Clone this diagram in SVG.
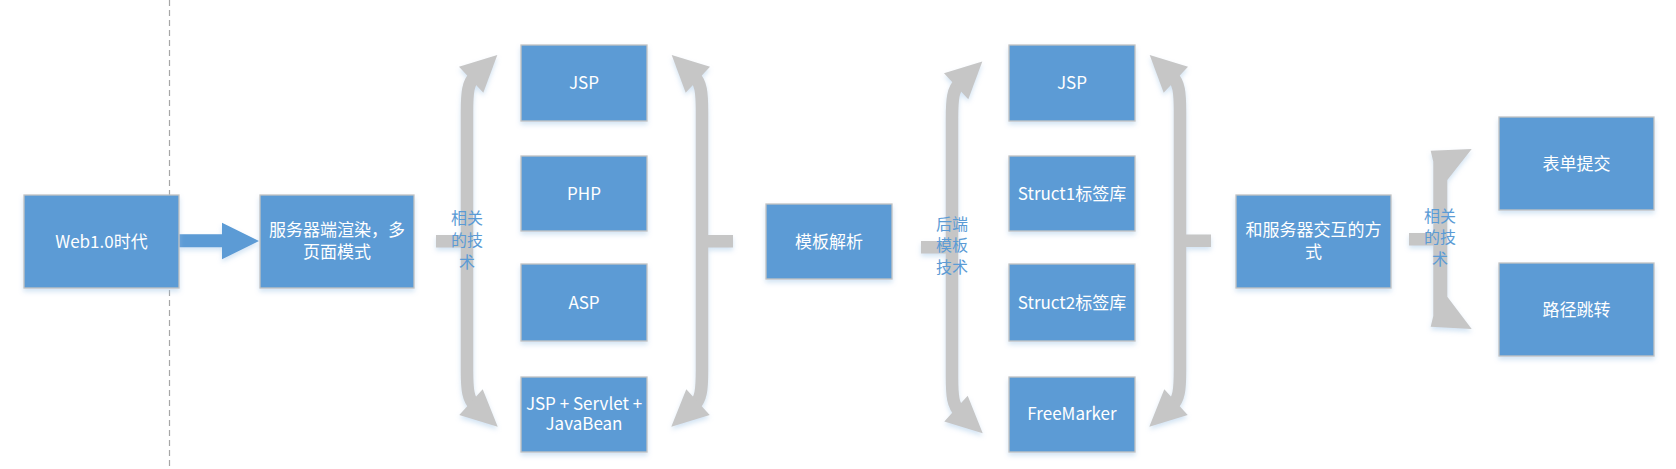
<svg xmlns="http://www.w3.org/2000/svg" xmlns:xlink="http://www.w3.org/1999/xlink" width="1676" height="469" viewBox="0 0 1676 469">
<style>
.box{fill:#5b9bd5;stroke:#c3c3c3;stroke-width:1.3;filter:url(#sh)}
.t{font-family:"Noto Sans CJK SC","Noto Sans",sans-serif;font-size:17px;fill:#ffffff;text-anchor:middle}
.lbl{font-family:"Noto Sans CJK SC","Noto Sans",sans-serif;font-size:16px;fill:#5b9bd5;text-anchor:middle}
.g{fill:#c6c6c6}
.gs{fill:none;stroke:#c6c6c6;stroke-width:12.5}
</style>
<defs>
<filter id="sh" x="-20%" y="-20%" width="140%" height="150%">
<feDropShadow dx="0" dy="3" stdDeviation="2.5" flood-color="#9dc3e6" flood-opacity="0.45"/>
</filter>
<g id="brace">
<path class="gs" d="M475,76 C468,83 467,92 467,112 L467,370 C467,390 468,399 475,406"/>
<polygon class="g" points="497.3,55 459,66.7 483.3,92.7"/>
<polygon class="g" points="497.7,426.7 459.3,415 482.7,389.3"/>
</g>
</defs>
<rect width="1676" height="469" fill="#ffffff"/>
<line x1="169.5" y1="0" x2="169.5" y2="469" stroke="#a6a6a6" stroke-width="1.2" stroke-dasharray="6,4"/>
<g id="connectors" filter="url(#sh)">
<polygon fill="#5b9bd5" points="179,234.3 222,234.3 222,222.7 259,241 222,259.3 222,247.3 179,247.3"/>
<rect class="g" x="436" y="235" width="26" height="12.5"/>
<rect class="g" x="707" y="235" width="26" height="12.5"/>
<rect class="g" x="921" y="241" width="26" height="12.5"/>
<rect class="g" x="1185" y="234.5" width="26" height="12.5"/>
<rect class="g" x="1409" y="233" width="25" height="12.5"/>
<use xlink:href="#brace"/>
<use xlink:href="#brace" transform="translate(1169,0) scale(-1,1)"/>
<use xlink:href="#brace" transform="translate(485,6.5)"/>
<use xlink:href="#brace" transform="translate(1647,0) scale(-1,1)"/>
<polygon class="g" points="1430.7,150.7 1471.7,149 1447.3,180 1447.3,296.7 1471.7,329 1430.7,326.7 1433.3,316 1433.3,161.7"/>
</g>
<g id="labels">
<text class="lbl" x="467" y="224">相关</text>
<text class="lbl" x="467" y="245.5">的技</text>
<text class="lbl" x="467" y="267.5">术</text>
<text class="lbl" x="952" y="229.6">后端</text>
<text class="lbl" x="952" y="250.8">模板</text>
<text class="lbl" x="952" y="273.2">技术</text>
<text class="lbl" x="1440" y="222.3">相关</text>
<text class="lbl" x="1440" y="243.3">的技</text>
<text class="lbl" x="1440" y="265">术</text>
</g>
<g id="n-web"><rect class="box" x="24" y="195" width="155" height="93"/><text class="t" x="101.5" y="247.5">Web1.0时代</text></g>
<g id="n-ssr"><rect class="box" x="260" y="195" width="154" height="93"/><text class="t" x="337" y="236">服务器端渲染，多</text><text class="t" x="337" y="257.5">页面模式</text></g>
<g id="n-jsp1"><rect class="box" x="521" y="45" width="126" height="76"/><text class="t" x="584" y="89">JSP</text></g>
<g id="n-php"><rect class="box" x="521" y="156" width="126" height="75"/><text class="t" x="584" y="199.5">PHP</text></g>
<g id="n-asp"><rect class="box" x="521" y="264" width="126" height="77"/><text class="t" x="584" y="308.5">ASP</text></g>
<g id="n-jsps"><rect class="box" x="521" y="377" width="126" height="75"/><text class="t" x="584" y="410">JSP + Servlet +</text><text class="t" x="584" y="430">JavaBean</text></g>
<g id="n-tpl"><rect class="box" x="766" y="204" width="126" height="75"/><text class="t" x="829" y="247.5">模板解析</text></g>
<g id="n-jsp2"><rect class="box" x="1009" y="45" width="126" height="76"/><text class="t" x="1072" y="89">JSP</text></g>
<g id="n-s1"><rect class="box" x="1009" y="156" width="126" height="75"/><text class="t" x="1072" y="199.5">Struct1标签库</text></g>
<g id="n-s2"><rect class="box" x="1009" y="264" width="126" height="77"/><text class="t" x="1072" y="308.5">Struct2标签库</text></g>
<g id="n-fm"><rect class="box" x="1009" y="377" width="126" height="75"/><text class="t" x="1072" y="420">FreeMarker</text></g>
<g id="n-interact"><rect class="box" x="1236" y="195" width="155" height="93"/><text class="t" x="1313.5" y="235.5">和服务器交互的方</text><text class="t" x="1313.5" y="257.5">式</text></g>
<g id="n-form"><rect class="box" x="1499" y="117" width="155" height="93"/><text class="t" x="1576.5" y="170">表单提交</text></g>
<g id="n-route"><rect class="box" x="1499" y="263" width="155" height="93"/><text class="t" x="1576.5" y="316">路径跳转</text></g>
</svg>
